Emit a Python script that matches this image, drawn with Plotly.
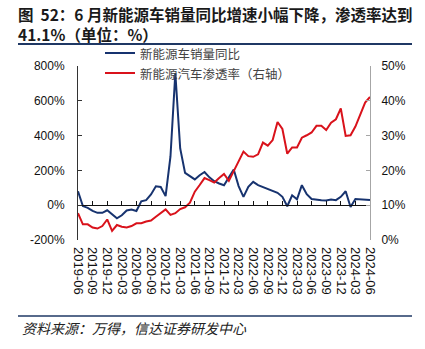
import plotly.graph_objects as go

months = [
    "2019-06", "2019-07", "2019-08", "2019-09", "2019-10", "2019-11", "2019-12",
    "2020-01", "2020-02", "2020-03", "2020-04", "2020-05", "2020-06", "2020-07",
    "2020-08", "2020-09", "2020-10", "2020-11", "2020-12", "2021-01", "2021-02",
    "2021-03", "2021-04", "2021-05", "2021-06", "2021-07", "2021-08", "2021-09",
    "2021-10", "2021-11", "2021-12", "2022-01", "2022-02", "2022-03", "2022-04",
    "2022-05", "2022-06", "2022-07", "2022-08", "2022-09", "2022-10", "2022-11",
    "2022-12", "2023-01", "2023-02", "2023-03", "2023-04", "2023-05", "2023-06",
    "2023-07", "2023-08", "2023-09", "2023-10", "2023-11", "2023-12", "2024-01",
    "2024-02", "2024-03", "2024-04", "2024-05", "2024-06",
]

# 新能源车销量同比 (%) - left axis
nev_yoy = [
    80, -5, -15, -33, -44, -44, -29,
    -52, -75, -58, -30, -25, -33, 22,
    29, 62, 109, 105, 52, 280, 760,
    326, 186, 167, 148, 172, 191, 160,
    138, 125, 115, 160, 205, 110, 48,
    105, 134, 115, 105, 95, 85, 71,
    48, -6, 57, 34, 115, 63, 36,
    31, 29, 27, 33, 29, 48, 80,
    -10, 36, 33, 32, 30,
]

# 新能源汽车渗透率 (%) - right axis
nev_pen = [
    7.7, 4.5, 4.5, 3.6, 3.3, 4.0, 5.9,
    2.6, 4.3, 3.8, 3.6, 4.0, 4.8, 4.8,
    5.3, 5.6, 6.7, 7.7, 8.8, 7.2, 7.7,
    8.9, 9.4, 10.7, 13.9, 15.8, 17.8, 17.2,
    16.5, 17.8, 19.0, 17.0, 19.8, 22.2, 25.4,
    24.1, 23.9, 24.6, 28.0, 27.1, 28.7, 33.9,
    31.9, 24.8, 26.6, 26.6, 29.4, 30.1, 30.9,
    32.8, 32.8, 31.6, 33.7, 34.7, 37.8, 29.9,
    30.1, 32.6, 35.9, 39.5, 41.1,
]

tick_months = months[::3]
left_ticks = [-200, 0, 200, 400, 600, 800]
right_ticks = [0, 10, 20, 30, 40, 50]

series_names = ["新能源车销量同比", "新能源汽车渗透率（右轴）"]
title_text = "图  52：6 月新能源车销量同比增速小幅下降，渗透率达到<br>41.1%（单位：%）"
source_text = "资料来源：万得，信达证券研发中心"

BLUE = "#17336f"
RED = "#d9121b"
NAVY = "#1f3864"
CJK = "Noto Sans CJK SC"
LAT = "Liberation Sans, Arial"

W, H = 425, 349
ML, MR, MT, MB = 78, 55, 66, 109
PW, PH = W - ML - MR, H - MT - MB


def px(x):
    return (x - ML) / PW


def py(y):
    return (H - MB - y) / PH


fig = go.Figure()
# invisible helper trace so the zero-line category axis (x2) is drawn
fig.add_trace(go.Scatter(x=months, y=nev_yoy, mode="lines", xaxis="x2", yaxis="y",
                         line=dict(width=0, color="rgba(0,0,0,0)"),
                         hoverinfo="skip", showlegend=False))
fig.add_trace(go.Scatter(x=months, y=nev_pen, mode="lines", name=series_names[1],
                         line=dict(color=RED, width=2), xaxis="x", yaxis="y2",
                         showlegend=False))
fig.add_trace(go.Scatter(x=months, y=nev_yoy, mode="lines", name=series_names[0],
                         line=dict(color=BLUE, width=2), xaxis="x", yaxis="y",
                         showlegend=False))

fig.update_layout(
    width=W, height=H,
    margin=dict(l=ML, r=MR, t=MT, b=MB),
    paper_bgcolor="white", plot_bgcolor="white",
    showlegend=False,
    xaxis=dict(type="category", range=[0, len(months) - 1], categoryorder="array",
               categoryarray=months,
               tickvals=tick_months, ticktext=tick_months, tickangle=90,
               showgrid=False, showline=False, ticks="", zeroline=False,
               ticklabelstandoff=6,
               tickfont=dict(family=LAT, size=13, color="#111")),
    xaxis2=dict(type="category", range=[0, len(months) - 1], categoryorder="array",
                categoryarray=months, overlaying="x", anchor="free",
                position=(0 - (-200)) / (800 - (-200)),
                tickvals=tick_months, showticklabels=False,
                showline=True, linecolor="#111", linewidth=1,
                ticks="inside", ticklen=4, tickcolor="#111", tickwidth=1,
                showgrid=False, zeroline=False),
    yaxis=dict(range=[-200, 800], tickvals=left_ticks,
               ticktext=[f"{v}%" for v in left_ticks],
               showgrid=False, zeroline=False, showline=True, linecolor="#333",
               linewidth=1, ticks="inside", ticklen=4, tickcolor="#333",
               ticklabelstandoff=10,
               tickfont=dict(family=LAT, size=12, color="#111")),
    yaxis2=dict(range=[0, 50], tickvals=right_ticks,
                ticktext=[f"{v}%" for v in right_ticks], overlaying="y",
                side="right", anchor="x",
                showgrid=False, zeroline=False, showline=True, linecolor="#a6a6a6",
                linewidth=1, ticks="inside", ticklen=4, tickcolor="#a6a6a6",
                ticklabelstandoff=8,
                tickfont=dict(family=LAT, size=12, color="#111")),
)

# legend (manual)
leg_y = [53, 73]
leg_col = [BLUE, RED]
for name, yy, c in zip(series_names, leg_y, leg_col):
    fig.add_shape(type="line", xref="paper", yref="paper", x0=px(105), x1=px(135),
                  y0=py(yy), y1=py(yy), line=dict(color=c, width=2))
    fig.add_annotation(xref="paper", yref="paper", x=px(139), y=py(yy), text=name,
                       showarrow=False, xanchor="left", yanchor="middle", borderpad=0,
                       font=dict(family=CJK, size=12.5, color="#444"))

# title
fig.add_annotation(xref="paper", yref="paper", x=px(16), y=py(24), text=f"<b>{title_text}</b>",
                   showarrow=False, xanchor="left", yanchor="middle", align="left",
                   font=dict(family=CJK, size=15.5, color="#1a1a1a"))
fig.add_shape(type="line", xref="paper", yref="paper", x0=px(18), x1=px(412),
              y0=py(44), y1=py(44), line=dict(color=NAVY, width=2))

# source
fig.add_shape(type="line", xref="paper", yref="paper", x0=px(18), x1=px(412),
              y0=py(316), y1=py(316), line=dict(color=NAVY, width=1.5))
fig.add_annotation(xref="paper", yref="paper", x=px(20), y=py(328), text=source_text,
                   showarrow=False, xanchor="left", yanchor="middle",
                   font=dict(family=CJK, size=14, color="#222", style="italic"))

fig.write_html("out.html")
